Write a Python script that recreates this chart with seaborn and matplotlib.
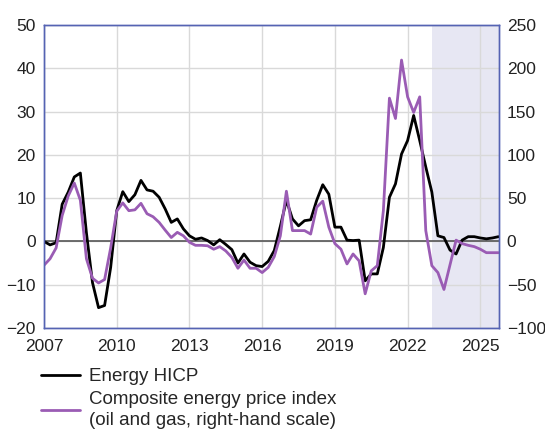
import numpy as np
import pandas as pd
import matplotlib
matplotlib.use("Agg")
import matplotlib.pyplot as plt
from matplotlib.lines import Line2D
import seaborn as sns

# ---------------- data (quarterly, 2007Q1 onwards) ----------------
start_year = 2007
energy_hicp = [0.0, -0.8, -0.3, 8.6, 11.4, 14.9, 15.8, 2.0, -9.5, -15.3,
               -14.8, -6.0, 7.1, 11.5, 9.2, 10.8, 14.1, 11.9, 11.6, 10.2,
               7.5, 4.4, 5.2, 2.9, 1.3, 0.5, 0.8, 0.2, -0.8, 0.4,
               -0.7, -1.9, -5.0, -2.9, -4.8, -5.6, -5.8, -4.6, -2.1, 3.5,
               9.5, 5.2, 3.6, 4.8, 5.0, 9.5, 13.1, 10.9, 3.3, 3.3,
               0.3, 0.2, 0.3, -9.1, -7.5, -7.5, -1.4, 10.2, 13.3, 20.2,
               23.3, 29.1, 23.3, 17.2, 11.4, 1.3, 0.9, -2.0, -2.9, 0.3,
               1.1, 1.1, 0.8, 0.6, 0.8, 1.1]
composite_index = [-27.5, -20, -7.5, 30, 52.5, 67.5, 47.5, -20, -42.5, -48,
                   -44, -7.5, 35, 44.5, 35.5, 36.5, 44, 32, 28.5, 22,
                   13, 4.5, 10.5, 6.5, -1, -4.5, -4.5, -5, -9, -6,
                   -11, -18.5, -31, -21.5, -31, -31, -36, -30, -17.5, 6.5,
                   58, 12.5, 12.5, 12.5, 8.5, 39.5, 46.5, 16.5, -2.5, -9,
                   -26, -14.5, -22.5, -60.5, -34, -28, 35.5, 165.5, 142, 209.5,
                   167, 149, 167, 12.5, -28, -36, -55.5, -27, 1.5, -2.5,
                   -4.5, -6, -9, -13, -13, -13]
projection_start = 2023
x_ticks = [2007, 2010, 2013, 2016, 2019, 2022, 2025]
left_ticks = [-20, -10, 0, 10, 20, 30, 40, 50]
right_ticks = [-100, -50, 0, 50, 100, 150, 200, 250]
label_hicp = "Energy HICP"
label_comp = "Composite energy price index\n(oil and gas, right-hand scale)"

assert len(energy_hicp) == len(composite_index)
n = len(energy_hicp)
df = pd.DataFrame({
    "date": [start_year + i * 0.25 for i in range(n)],
    "hicp": energy_hicp,
    "comp": composite_index,
})

# ---------------- style ----------------
sns.set_style("white")
plt.rcParams["font.family"] = ["Liberation Sans", "DejaVu Sans"]

frame_col = "#5563b3"
purple = "#9a5cb4"
shade = "#e7e7f3"
grid_col = "#d9d9d9"

fig = plt.figure(figsize=(5.45, 4.29), dpi=100)
ax = fig.add_axes([44 / 545, 1 - 328 / 429, (498.5 - 44) / 545, (328 - 25) / 429])
ax2 = ax.twinx()

ax.set_axisbelow(True)
ax.axvspan(projection_start, df["date"].iloc[-1] + 0.01, color=shade, lw=0, zorder=0)
ax.grid(True, color=grid_col, lw=1.0)
ax.axhline(0, color="#555555", lw=1.2, zorder=1.5)

sns.lineplot(data=df, x="date", y="hicp", ax=ax, color="black", lw=2.0, zorder=3)
sns.lineplot(data=df, x="date", y="comp", ax=ax2, color=purple, lw=2.0, zorder=2)

ax.set_xlim(start_year, df["date"].iloc[-1])
ax.set_ylim(-20, 50)
ax2.set_ylim(-100, 250)
ax.set_xticks(x_ticks)
ax.set_yticks(left_ticks)
ax2.set_yticks(right_ticks)
ax.set_xlabel("")
ax.set_ylabel("")
ax2.set_ylabel("")

ax.tick_params(axis="both", length=0, labelsize=12.5, colors="#222222")
ax.tick_params(axis="y", pad=6)
ax.tick_params(axis="x", pad=8)
ax2.tick_params(axis="y", length=0, labelsize=12.5, colors="#222222", pad=6)

for a in (ax, ax2):
    for s in a.spines.values():
        s.set_color(frame_col)
        s.set_linewidth(1.0)
        s.set_visible(True)

handles = [Line2D([], [], color="black", lw=2.0),
           Line2D([], [], color=purple, lw=2.0)]
leg = fig.legend(handles, [label_hicp, label_comp], loc="upper left",
                 bbox_to_anchor=(41 / 545, 1 - 368 / 429), frameon=False,
                 fontsize=13.5, handlelength=2.1, handletextpad=0.45,
                 labelspacing=0.3, borderpad=0, borderaxespad=0)
for t in leg.get_texts():
    t.set_linespacing(1.35)

fig.savefig("out.png", dpi=100)
